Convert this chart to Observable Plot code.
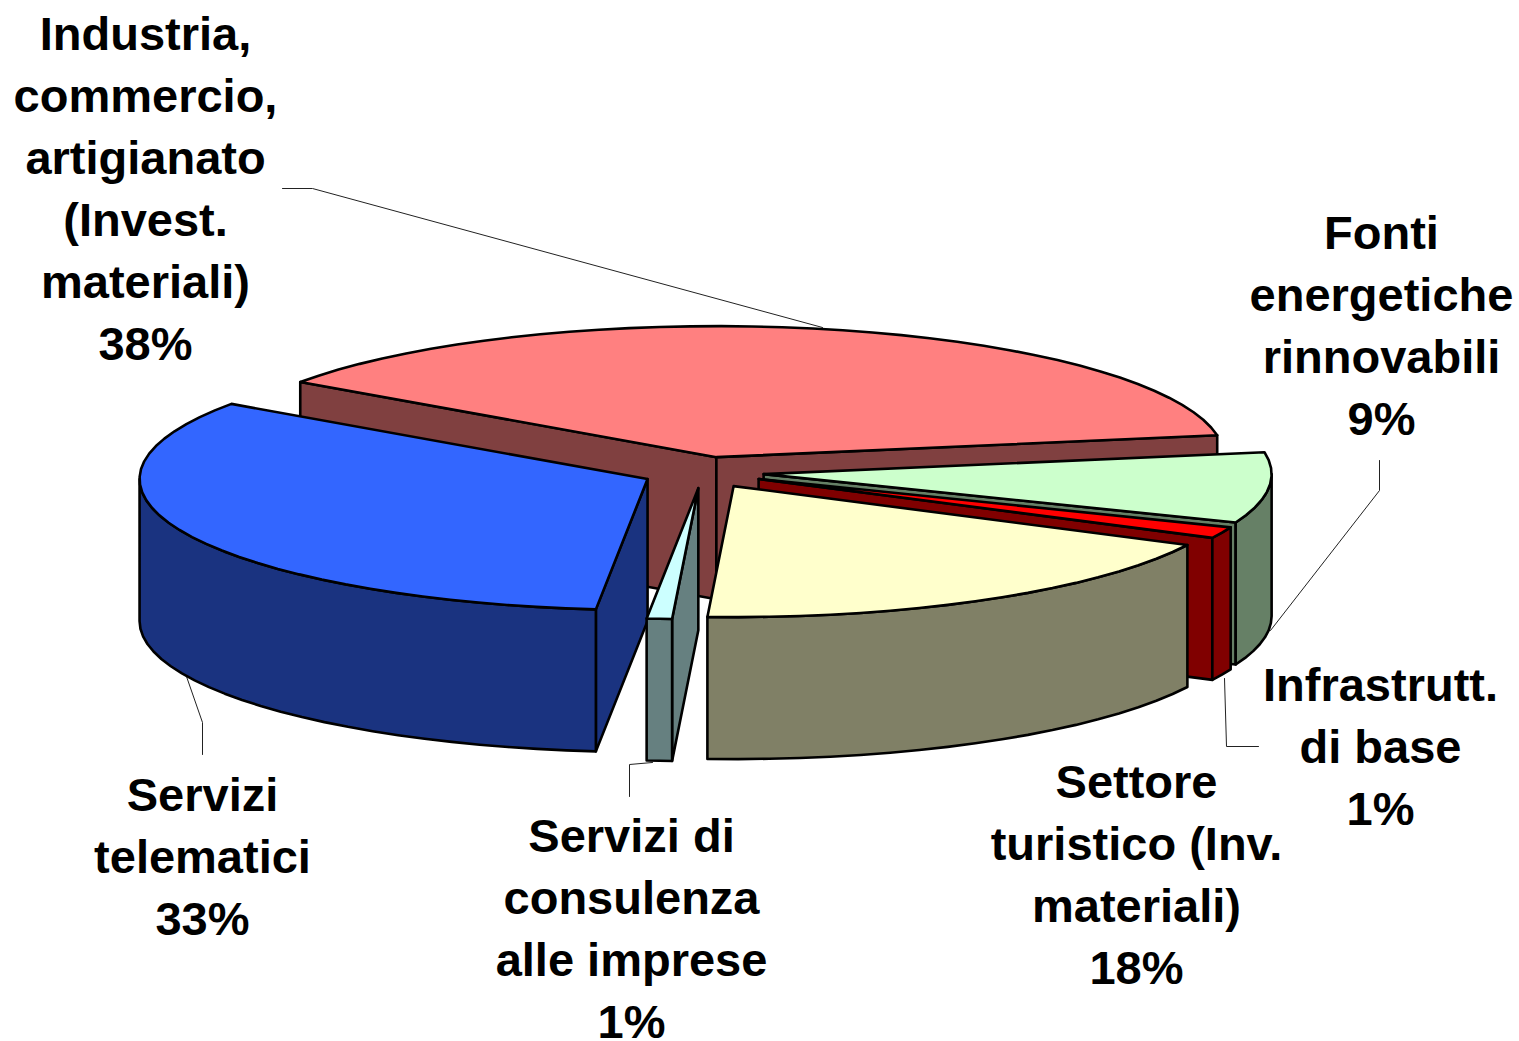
<!DOCTYPE html>
<html>
<head>
<meta charset="utf-8">
<script src="https://cdn.jsdelivr.net/npm/d3@7"></script>
<script src="https://cdn.jsdelivr.net/npm/@observablehq/plot@0.6"></script>
<style>html,body{margin:0;padding:0;background:#fff}svg{display:block}</style>
</head>
<body>
<div id="chart"></div>
<script>
// Data
const categories = [
  "Industria,\ncommercio,\nartigianato\n(Invest.\nmateriali)",
  "Fonti\nenergetiche\nrinnovabili",
  "Infrastrutt.\ndi base",
  "Settore\nturistico (Inv.\nmateriali)",
  "Servizi di\nconsulenza\nalle imprese",
  "Servizi\ntelematici"
];
const shares = [37.6, 8.7, 1.4, 18.4, 0.8, 33.1];
const topColors = ["#FF8080", "#CCFFCC", "#FF0000", "#FFFFCC", "#CCFFFF", "#3366FF"];
const sideColors = ["#804040", "#668066", "#800000", "#808066", "#668080", "#1A3380"];

// Layout of the tilted pie
const center = [702.5, 472], rx = 508, ry = 131, depth = 142, explode = 0.12, startAngle = 305;
const labelX = [145, 1381, 1380, 1136, 631, 202];
const labelY = [185, 322, 743, 870.5, 925, 853];
const leaders = [
  [[282, 188], [312, 188], [822, 327]],
  [[1379, 460], [1379, 490], [1270, 630]],
  [[1224, 678], [1226, 746], [1258, 746]],
  [[629, 796], [629, 764], [652, 762]],
  [[202, 754], [202, 722], [186, 676]]
];

const rad = d => d * Math.PI / 180;
const unit = t => [Math.sin(rad(t)), -Math.cos(rad(t))];
const total = d3.sum(shares);

function sampleArc(a, b) {
  const n = Math.max(1, Math.ceil((b - a) / 3.5));
  return d3.range(n + 1).map(i => a + (b - a) * i / n);
}

const polys = [];
let acc = startAngle;
shares.forEach((s, i) => {
  if (acc >= 360) acc -= 360;
  const a0 = acc, a1 = acc + s / total * 360;
  acc = a1;
  const mid = (a0 + a1) / 2, [mx, my] = unit(mid);
  const apex = [center[0] + explode * rx * mx, center[1] + explode * ry * my];
  const rim = t => { const [u, v] = unit(t); return [apex[0] + rx * u, apex[1] + ry * v]; };
  const down = p => [p[0], p[1] + depth];
  const face = t => { const p = rim(t); polys.push({ pts: [apex, p, down(p), down(apex)], fill: sideColors[i], i }); };
  // radial faces, only those turned towards the viewer
  if (Math.sin(rad(a0)) < 0) face(a0);
  if (Math.sin(rad(a1)) > 0) face(a1);
  // outer wall, only the part facing the viewer
  const w0 = Math.max(a0, 90), w1 = Math.min(a1, 270);
  if (w1 > w0) {
    const arc = sampleArc(w0, w1).map(rim);
    polys.push({ pts: [...arc, ...arc.slice().reverse().map(down)], fill: sideColors[i], i });
  }
  // top
  polys.push({ pts: [apex, ...sampleArc(a0, a1).map(rim)], fill: topColors[i], i });
});

// paint back to front: the small consulting slice sits in front of the blue one
const paintOrder = [0, 1, 2, 3, 5, 4];
const ordered = paintOrder.flatMap(i => polys.filter(p => p.i === i));

const labels = categories.map((c, i) => ({ text: `${c}\n${Math.round(shares[i])}%`, x: labelX[i], y: labelY[i] }));

const plot = Plot.plot({
  width: 1519,
  height: 1041,
  margin: 0,
  style: { background: "#fff" },
  x: { domain: [0, 1519], range: [0, 1519], axis: null },
  y: { domain: [0, 1041], range: [0, 1041], axis: null },
  marks: [
    ...leaders.map(l => Plot.line(l, { x: d => d[0], y: d => d[1], stroke: "#222", strokeWidth: 1 })),
    ...ordered.map(p => Plot.line(p.pts, {
      x: d => d[0], y: d => d[1], curve: "linear-closed",
      fill: p.fill, stroke: "#000", strokeWidth: 2.6, strokeLinejoin: "round"
    })),
    Plot.text(labels, {
      x: "x", y: "y", text: "text", fontSize: 47, fontWeight: "bold",
      fontFamily: "Liberation Sans, Arial, sans-serif", lineHeight: 62 / 47,
      textAnchor: "middle", lineAnchor: "middle", fill: "#000"
    })
  ]
});
document.getElementById("chart").append(plot);
</script>
</body>
</html>
